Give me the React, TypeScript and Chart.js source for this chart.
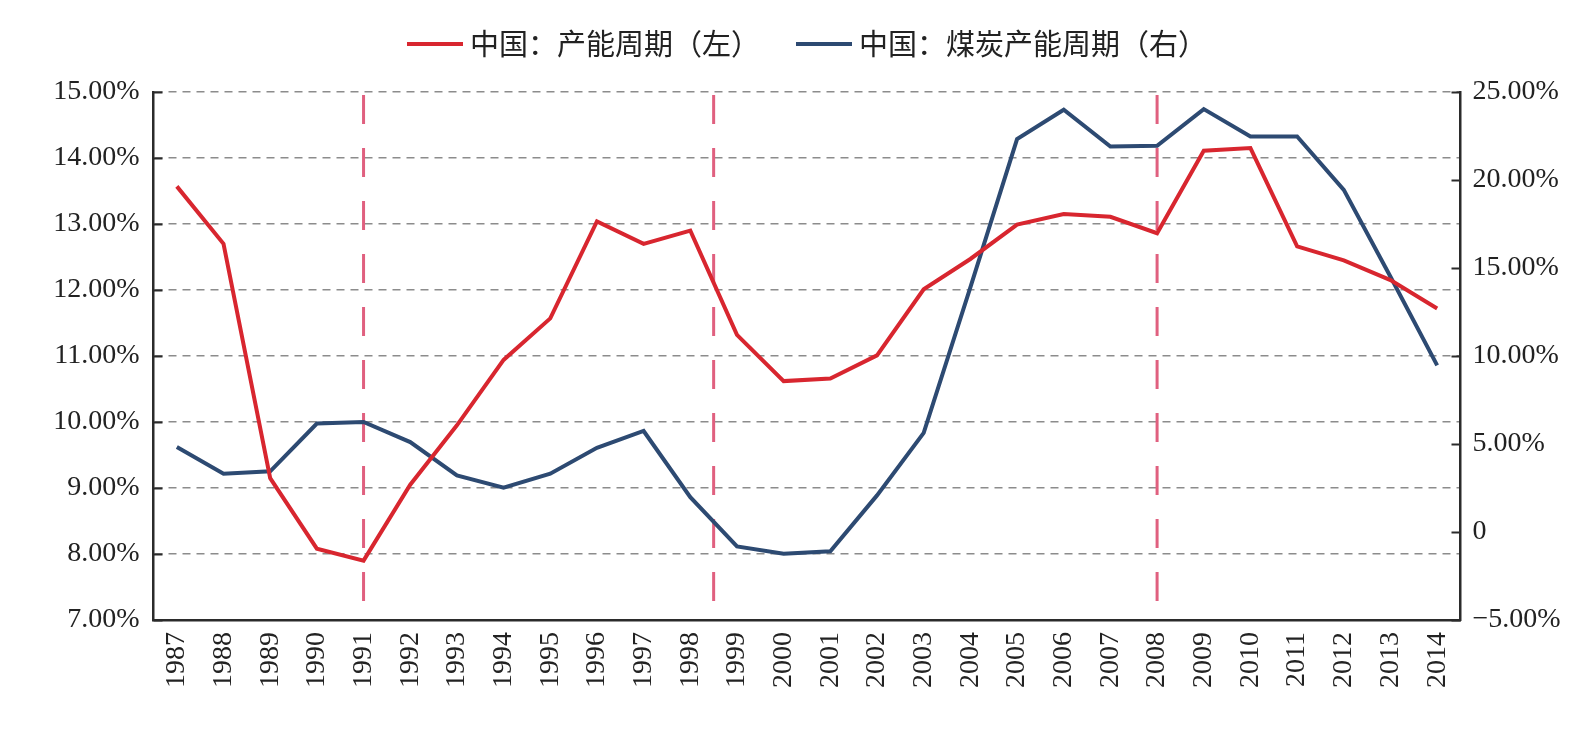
import { useEffect, useRef } from 'react';
import { Chart, registerables } from 'chart.js';

Chart.register(...registerables);

// Years on the category axis
const years = [
  '1987', '1988', '1989', '1990', '1991', '1992', '1993', '1994', '1995', '1996',
  '1997', '1998', '1999', '2000', '2001', '2002', '2003', '2004', '2005', '2006',
  '2007', '2008', '2009', '2010', '2011', '2012', '2013', '2014',
];

// 中国：产能周期（左轴，%）
const capacityCycle = [
  13.57, 12.70, 9.15, 8.08, 7.90, 9.05, 9.95, 10.94, 11.57, 13.04,
  12.70, 12.90, 11.32, 10.62, 10.66, 11.01, 12.01, 12.47, 12.99, 13.15,
  13.11, 12.86, 14.11, 14.15, 12.66, 12.45, 12.15, 11.72,
];

// 中国：煤炭产能周期（右轴，%）
const coalCapacityCycle = [
  4.83, 3.31, 3.45, 6.16, 6.25, 5.11, 3.22, 2.52, 3.31, 4.78,
  5.74, 1.98, -0.82, -1.24, -1.09, 2.08, 5.63, 13.9, 22.32, 23.99,
  21.9, 21.94, 24.03, 22.47, 22.47, 19.44, 14.5, 9.47,
];

// Turning points of the cycle, as years
const cycleMarkers = [1991, 1998.5, 2008];

// Axis ranges
const leftAxis = { min: 7, max: 15, step: 1 };
const rightAxis = { min: -5, max: 25, step: 5 };

const seriesNames = ['中国：产能周期（左）', '中国：煤炭产能周期（右）'];
const seriesColors = ['#d8262f', '#2d4a72'];
const markerColor = '#e0607f';
const axisColor = '#2b2b2b';
const textColor = '#222222';
const numberFont = '"Liberation Serif", "Times New Roman", serif';
const cjkFont = '"Noto Sans CJK SC", "Noto Sans", sans-serif';

const fmtPct = (v: number) => {
  if (Math.abs(v) < 1e-9) return '0';
  const s = Math.abs(v).toFixed(2) + '%';
  return v < 0 ? '\u2212' + s : s;
};

// Dashed vertical lines marking the cycle turning points
const markerPlugin = {
  id: 'cycleMarkers',
  beforeDatasetsDraw(chart: any) {
    const { ctx, chartArea, scales } = chart;
    const x = scales.x;
    ctx.save();
    ctx.strokeStyle = markerColor;
    ctx.lineWidth = 3;
    ctx.setLineDash([29, 24]);
    cycleMarkers.forEach((yr) => {
      const px = x.getPixelForValue(yr - Number(years[0]));
      ctx.beginPath();
      ctx.moveTo(px, chartArea.top + 3);
      ctx.lineTo(px, chartArea.bottom - 14);
      ctx.stroke();
    });
    ctx.restore();
  },
};

// Short inward tick marks on both value axes
const innerTicksPlugin = {
  id: 'innerTicks',
  afterDraw(chart: any) {
    const { ctx, chartArea, scales } = chart;
    ctx.save();
    ctx.strokeStyle = axisColor;
    ctx.lineWidth = 2;
    ctx.setLineDash([]);
    const len = 9;
    scales.yL.ticks.forEach((t: any) => {
      const py = Math.round(scales.yL.getPixelForValue(t.value)) + 0.5;
      ctx.beginPath();
      ctx.moveTo(chartArea.left, py);
      ctx.lineTo(chartArea.left + len, py);
      ctx.stroke();
    });
    scales.yR.ticks.forEach((t: any) => {
      const py = Math.round(scales.yR.getPixelForValue(t.value)) + 0.5;
      ctx.beginPath();
      ctx.moveTo(chartArea.right - len, py);
      ctx.lineTo(chartArea.right, py);
      ctx.stroke();
    });
    ctx.restore();
  },
};

// Legend row above the plot: a short line sample followed by the series name
const legendPlugin = {
  id: 'topLegend',
  afterDraw(chart: any) {
    const { ctx, chartArea } = chart;
    ctx.save();
    ctx.font = `29px ${cjkFont}`;
    ctx.textBaseline = 'middle';
    ctx.textAlign = 'left';
    const lineLen = 56;
    const gapText = 7;
    const gapItem = 36;
    const ds = chart.data.datasets;
    const widths = ds.map((d: any) => lineLen + gapText + ctx.measureText(d.label).width);
    const total = widths.reduce((a: number, b: number) => a + b, 0) + gapItem * (ds.length - 1);
    let x = (chartArea.left + chartArea.right) / 2 - total / 2;
    const y = 36;
    ds.forEach((d: any, i: number) => {
      ctx.strokeStyle = d.borderColor;
      ctx.lineWidth = 4;
      ctx.beginPath();
      ctx.moveTo(x, y);
      ctx.lineTo(x + lineLen, y);
      ctx.stroke();
      ctx.fillStyle = textColor;
      ctx.fillText(d.label, x + lineLen + gapText, y);
      x += widths[i] + gapItem;
    });
    ctx.restore();
  },
};

export default function App() {
  const canvasRef = useRef<HTMLCanvasElement | null>(null);

  useEffect(() => {
    if (!canvasRef.current) return;
    const chart = new Chart(canvasRef.current, {
      type: 'line',
      data: {
        labels: years,
        datasets: [
          {
            label: seriesNames[0],
            data: capacityCycle,
            borderColor: seriesColors[0],
            backgroundColor: seriesColors[0],
            borderWidth: 4,
            pointRadius: 0,
            tension: 0,
            yAxisID: 'yL',
          },
          {
            label: seriesNames[1],
            data: coalCapacityCycle,
            borderColor: seriesColors[1],
            backgroundColor: seriesColors[1],
            borderWidth: 4,
            pointRadius: 0,
            tension: 0,
            yAxisID: 'yR',
          },
        ],
      },
      options: {
        animation: false,
        responsive: true,
        maintainAspectRatio: false,
        layout: { padding: { top: 84, left: 0, right: 0, bottom: 0 } },
        plugins: {
          legend: { display: false },
          tooltip: { enabled: false },
        },
        scales: {
          x: {
            type: 'category',
            offset: true,
            grid: { display: false, drawTicks: false },
            border: { display: true, color: axisColor, width: 2.5 },
            ticks: {
              autoSkip: false,
              minRotation: 90,
              maxRotation: 90,
              padding: 12,
              color: textColor,
              font: { family: numberFont, size: 28 },
            },
            afterFit: (s: any) => {
              s.height = 103;
            },
          },
          yL: {
            type: 'linear',
            position: 'left',
            min: leftAxis.min,
            max: leftAxis.max,
            ticks: {
              stepSize: leftAxis.step,
              padding: 14,
              color: textColor,
              font: { family: numberFont, size: 28 },
              callback: (v: any) => fmtPct(Number(v)),
            },
            grid: {
              drawTicks: false,
              color: (c: any) => (c.tick && c.tick.value === leftAxis.min ? 'rgba(0,0,0,0)' : '#8c8c8c'),
              lineWidth: 1.5,
            },
            border: { display: true, color: axisColor, width: 2.5, dash: [8, 6] },
            afterFit: (s: any) => {
              s.width = 145.5;
            },
          },
          yR: {
            type: 'linear',
            position: 'right',
            min: rightAxis.min,
            max: rightAxis.max,
            ticks: {
              stepSize: rightAxis.step,
              padding: 12,
              color: textColor,
              font: { family: numberFont, size: 28 },
              callback: (v: any) => fmtPct(Number(v)),
            },
            grid: { display: false, drawTicks: false },
            border: { display: true, color: axisColor, width: 2.5 },
            afterFit: (s: any) => {
              s.width = 117.5;
            },
          },
        },
      },
      plugins: [markerPlugin, innerTicksPlugin, legendPlugin],
    });

    return () => chart.destroy();
  }, []);

  return (
    <div style={{ position: 'relative', width: '1570px', height: '715px' }}>
      <canvas ref={canvasRef} />
    </div>
  );
}
